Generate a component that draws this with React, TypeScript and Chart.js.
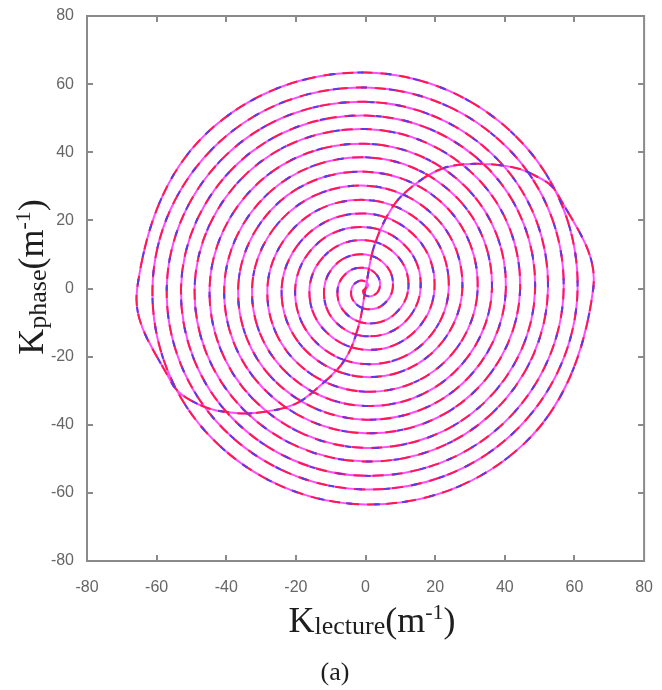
import React, { useEffect, useRef } from "react";
import { Chart, registerables } from "chart.js";

Chart.register(...registerables);

// ---- axes ----
const X_MIN = -80;
const X_MAX = 80;
const Y_MIN = -80;
const Y_MAX = 80;
const TICK_STEP = 20;

// ---- double spiral, radius read every eighth of a turn ----
const STEP_DEG = 45;
// arm A leaves the origin towards +x, winding counter-clockwise
const armARadii = [
  0, 1.0, 2.0, 3.0, 4.0, 5.0, 6.0, 6.9,
  7.8, 8.9, 10.0, 11.0, 11.9, 13.0, 14.0, 14.9,
  15.8, 16.9, 18.0, 19.1, 20.2, 21.2, 22.2, 23.1,
  23.9, 25.0, 26.0, 27.1, 28.2, 29.3, 30.3, 31.3,
  32.2, 33.3, 34.3, 35.5, 36.6, 37.6, 38.5, 39.4,
  40.3, 41.4, 42.5, 43.7, 44.8, 45.8, 46.8, 47.8,
  48.7, 49.8, 50.8, 51.9, 53.0, 54.0, 55.0, 56.0,
  56.9, 58.0, 59.0, 60.1, 61.2, 62.3, 63.4, 64.4,
  65.4,
];
// arm B leaves the origin towards -x, same winding sense
const armBStartDeg = 180;
const armBRadii = [
  0, 1.0, 2.0, 3.0, 4.0, 5.0, 6.0, 7.0,
  8.0, 9.1, 10.2, 11.2, 12.3, 13.2, 14.2, 15.1,
  16.1, 17.0, 18.0, 18.9, 19.8, 20.9, 22.0, 23.0,
  24.1, 25.0, 26.0, 26.9, 27.8, 29.0, 30.2, 31.4,
  32.6, 33.5, 34.5, 35.4, 36.3, 37.4, 38.5, 39.5,
  40.6, 41.5, 42.5, 43.5, 44.4, 45.6, 46.8, 48.0,
  49.1, 49.9, 50.8, 51.6, 52.4, 53.6, 54.8, 56.0,
  57.1, 58.0, 59.0, 60.0, 60.9, 62.1, 63.4, 64.5,
  65.6,
];

// ---- S-shaped curve through the origin (lower-left arc, then upper-right arc) ----
const lowerArcX = [0, -2, -6, -13, -20, -29, -38, -48, -55.8, -65.6];
const lowerArcY = [0, -11, -21, -28.5, -33.8, -36.2, -36.5, -34, -27.5, 0];
const upperArcX = [65.4, 55, 47.6, 40, 28.6, 21, 13.5, 7.8, 2.5, 0];
const upperArcY = [0, 28, 33.7, 36, 36.5, 34.8, 30, 24, 12.5, 0];

// ---- styles ----
const MAGENTA = "#ff4dff";
const RED = "#ff1a4d";
const BLUE = "#5a3ce6";

function polar(r: number, deg: number) {
  const a = (deg * Math.PI) / 180;
  return { x: r * Math.cos(a), y: r * Math.sin(a) };
}

// one closed trajectory: origin -> lower arc -> arm B inwards -> arm A outwards -> upper arc -> origin
function buildPath() {
  const pts: { x: number; y: number }[] = [];
  lowerArcX.forEach((x, i) => pts.push({ x, y: lowerArcY[i] }));
  for (let k = armBRadii.length - 2; k >= 1; k--) {
    pts.push(polar(armBRadii[k], armBStartDeg + k * STEP_DEG));
  }
  for (let k = 0; k < armARadii.length; k++) {
    pts.push(polar(armARadii[k], k * STEP_DEG));
  }
  upperArcX.forEach((x, i) => {
    if (i > 0) pts.push({ x, y: upperArcY[i] });
  });
  return pts;
}

type Seg = { text: string; size: number; dy: number };

function drawRich(ctx: CanvasRenderingContext2D, segs: Seg[], cx: number, baseY: number) {
  const fam = "'Liberation Serif', 'Times New Roman', serif";
  let total = 0;
  const widths = segs.map((s) => {
    ctx.font = `${s.size}px ${fam}`;
    const w = ctx.measureText(s.text).width;
    total += w;
    return w;
  });
  let x = cx - total / 2;
  ctx.textBaseline = "alphabetic";
  ctx.textAlign = "left";
  segs.forEach((s, i) => {
    ctx.font = `${s.size}px ${fam}`;
    ctx.fillText(s.text, x, baseY + s.dy);
    x += widths[i];
  });
}

const xTitle: Seg[] = [
  { text: "K", size: 36, dy: 0 },
  { text: "lecture", size: 26, dy: 2 },
  { text: "(m", size: 36, dy: 0 },
  { text: "-1", size: 22, dy: -13 },
  { text: ")", size: 36, dy: 0 },
];
const yTitle: Seg[] = [
  { text: "K", size: 36, dy: 0 },
  { text: "phase", size: 26, dy: 3 },
  { text: "(m", size: 36, dy: 0 },
  { text: "-1", size: 22, dy: -13 },
  { text: ")", size: 36, dy: 0 },
];
const caption = "(a)";

const framePlugin = {
  id: "framePlugin",
  afterDatasetsDraw(chart: any) {
    const { ctx, chartArea, scales } = chart;
    const { left, right, top, bottom } = chartArea;
    const xs = scales.x;
    const ys = scales.y;
    ctx.save();
    ctx.strokeStyle = "#8a8a8a";
    ctx.lineWidth = 2;
    ctx.strokeRect(left, top, right - left, bottom - top);
    ctx.beginPath();
    const TL = 6;
    xs.ticks.forEach((t: any) => {
      if (t.value === X_MIN || t.value === X_MAX) return;
      const px = Math.round(xs.getPixelForValue(t.value));
      ctx.moveTo(px, bottom);
      ctx.lineTo(px, bottom - TL);
      ctx.moveTo(px, top);
      ctx.lineTo(px, top + TL);
    });
    ys.ticks.forEach((t: any) => {
      if (t.value === Y_MIN || t.value === Y_MAX) return;
      const py = Math.round(ys.getPixelForValue(t.value));
      ctx.moveTo(left, py);
      ctx.lineTo(left + TL, py);
      ctx.moveTo(right, py);
      ctx.lineTo(right - TL, py);
    });
    ctx.stroke();

    ctx.fillStyle = "#1e1e1e";
    drawRich(ctx, xTitle, 372, 632);
    ctx.save();
    ctx.translate(43, 277);
    ctx.rotate(-Math.PI / 2);
    drawRich(ctx, yTitle, 0, 0);
    ctx.restore();
    ctx.font = "26px 'Liberation Serif', 'Times New Roman', serif";
    ctx.textAlign = "center";
    ctx.fillText(caption, 335, 680);
    ctx.restore();
  },
};

export default function App() {
  const ref = useRef<HTMLCanvasElement | null>(null);

  useEffect(() => {
    if (!ref.current) return;
    const path = buildPath();
    const base = {
      data: path,
      showLine: true,
      pointRadius: 0,
      pointHoverRadius: 0,
      fill: false,
      borderWidth: 2,
      tension: 0.375,
    };
    const tickFont = { family: "'Liberation Sans', Arial, sans-serif", size: 16 };
    const chart = new Chart(ref.current, {
      type: "scatter",
      data: {
        // first dataset is drawn on top
        datasets: [
          { ...base, borderColor: BLUE, borderDash: [6, 22], borderDashOffset: 10 },
          { ...base, borderColor: RED, borderDash: [11, 8] },
          { ...base, borderColor: MAGENTA },
        ],
      },
      options: {
        responsive: false,
        animation: false,
        devicePixelRatio: 1,
        layout: { padding: { left: 0, right: 10, top: 16, bottom: 0 } },
        plugins: { legend: { display: false }, tooltip: { enabled: false } },
        scales: {
          x: {
            type: "linear",
            min: X_MIN,
            max: X_MAX,
            grid: { display: false },
            border: { display: false },
            afterFit: (s: any) => {
              s.height = 129;
            },
            ticks: {
              stepSize: TICK_STEP,
              padding: 9,
              color: "#666666",
              font: tickFont,
              maxRotation: 0,
            },
          },
          y: {
            type: "linear",
            min: Y_MIN,
            max: Y_MAX,
            grid: { display: false },
            border: { display: false },
            afterFit: (s: any) => {
              s.width = 87;
            },
            ticks: {
              stepSize: TICK_STEP,
              padding: 5,
              color: "#666666",
              font: tickFont,
            },
          },
        },
      },
      plugins: [framePlugin],
    });
    return () => chart.destroy();
  }, []);

  return (
    <div style={{ position: "absolute", left: 0, top: 0, width: 662, height: 690, background: "#fff" }}>
      <canvas ref={ref} width={662} height={690} style={{ display: "block", width: 662, height: 690 }} />
    </div>
  );
}
